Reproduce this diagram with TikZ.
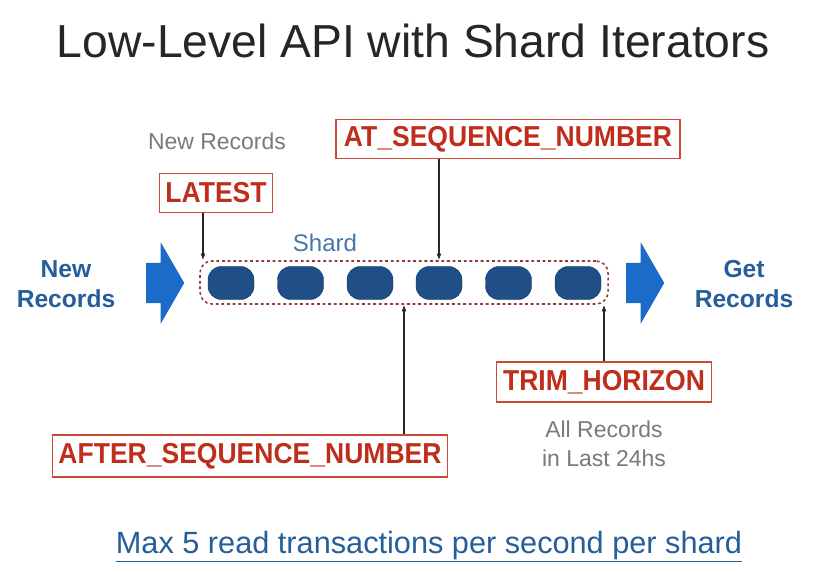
\documentclass[tikz,border=0pt]{standalone}
\usepackage{fontspec}
\setmainfont{Liberation Sans}
\newfontfamily\tagfont[FakeStretch=0.92]{Liberation Sans}
\usetikzlibrary{arrows.meta,positioning,shapes.arrows}
\definecolor{tagred}{HTML}{BF2E1B}
\definecolor{tagedge}{HTML}{CC4A35}
\definecolor{dashred}{HTML}{8E3A3A}
\definecolor{blobblue}{HTML}{1F4F86}
\definecolor{flowblue}{HTML}{1A6CC8}
\definecolor{textblue}{HTML}{265E9B}
\definecolor{notegray}{HTML}{7A7A7A}

\begin{document}
\begin{tikzpicture}[
  x=0.03cm,y=-0.03cm,
  iterbox/.style={draw=tagedge,line width=1.2pt,fill=white,text=tagred,inner xsep=2pt,
    minimum height=1.17cm,font=\tagfont\bfseries\fontsize{24.6}{28}\selectfont},
  blob/.style={fill=blobblue,draw=blobblue!80!black,rounded corners=0.4cm,
    minimum width=1.38cm,minimum height=0.99cm,inner sep=0pt},
  flow/.style={single arrow,fill=flowblue,single arrow tip angle=120,
    single arrow head extend=0.615cm,inner xsep=0pt,inner ysep=0.6cm,
    minimum height=1.14cm,anchor=tail},
  heading/.style={font=\fontsize{39.5}{47}\selectfont,text=black!85},
  bignote/.style={align=center,text=textblue,font=\bfseries\fontsize{21}{25.5}\selectfont},
  greynote/.style={align=center,text=notegray,font=\fontsize{19.6}{24.8}\selectfont},
  ptr/.style={-{Latex[length=2mm,width=1.5mm]},line width=0.9pt,black!85}
]
\useasboundingbox[fill=white] (0,0) rectangle (820,573);

\node[heading,anchor=base] (titulo) at (413,58) {Low-Level API with Shard Iterators};

% shard and its records
\node[draw=dashred,line width=1.3pt,dash pattern=on 2.4pt off 2.4pt,rounded corners=0.36cm,
  minimum width=12.24cm,minimum height=1.29cm,inner sep=0pt] (shardbox) at (404,282.5) {};
\node[anchor=base,text=textblue!85,font=\fontsize{20.5}{24}\selectfont] (shardname) at (325,252) {Shard};
\node[blob] (r1) at (231,283) {};
\node[blob] (r2) at (300.5,283) {};
\node[blob] (r3) at (370,283) {};
\node[blob] (r4) at (439,283) {};
\node[blob] (r5) at (508.5,283) {};
\node[blob] (r6) at (578,283) {};

% in and out
\node[flow] (inarrow) at (146,283) {};
\node[bignote] (newrec) at (66,284) {New\\Records};
\node[flow] (outarrow) at (626,283) {};
\node[bignote] (getrec) at (744,284) {Get\\Records};

% iterator types
\node[greynote,anchor=base] (newnote) at (217,150) {New Records};
\node[iterbox,minimum width=10.32cm] (atseq) at (508,139) {AT\_SEQUENCE\_NUMBER};
\node[iterbox,minimum width=3.39cm] (latest) at (216,193) {LATEST};
\node[iterbox,minimum width=6.45cm,minimum height=1.2cm] (trim) at (604,382) {TRIM\_HORIZON};
\node[greynote] (allnote) at (604,444) {All Records\\in Last 24hs};
\node[iterbox,minimum width=11.85cm,minimum height=1.26cm] (afterseq) at (250,456) {AFTER\_SEQUENCE\_NUMBER};

\draw[ptr] ([xshift=-0.39cm]latest.south) -- ([xshift=-0.39cm]latest.south |- shardbox.north);
\draw[ptr] ([xshift=-2.07cm]atseq.south) -- ([xshift=-2.07cm]atseq.south |- shardbox.north);
\draw[ptr] ([xshift=4.62cm]afterseq.north) -- ([xshift=4.62cm]afterseq.north |- shardbox.south);
\draw[ptr] (trim.north) -- (trim.north |- shardbox.south);

\node[anchor=base,text=textblue,font=\fontsize{26.2}{30}\selectfont] (limite) at (429,553)
  {\underline{Max 5 read transactions per second per shard}};
\end{tikzpicture}
\end{document}
